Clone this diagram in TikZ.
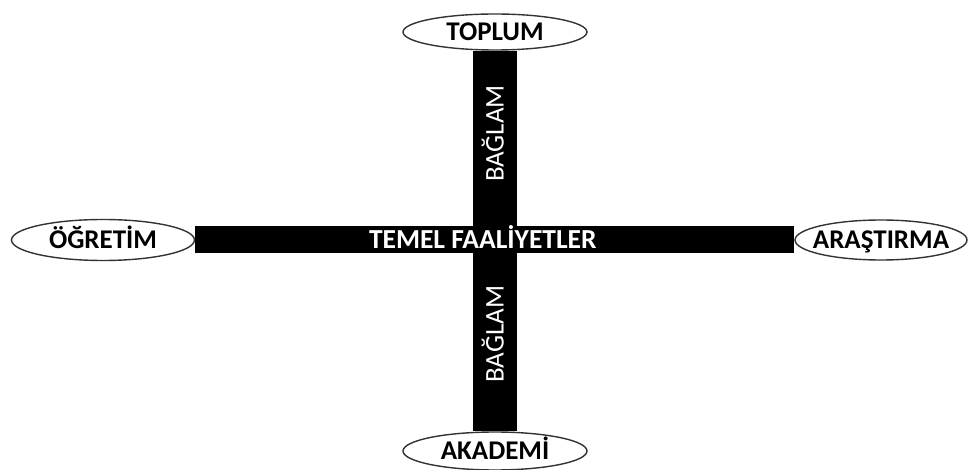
\documentclass[tikz,border=0pt]{standalone}
\usepackage{fontspec}
\setmainfont{Carlito}
\usetikzlibrary{backgrounds,shapes.geometric}
\newcommand\ortala[1]{\makebox[0pt]{#1}}
\begin{document}
\begin{tikzpicture}[x=1pt,y=-1pt,
		pole/.style={draw=black!80,line width=1.4pt,fill=white,ellipse,inner sep=0pt,text height=17pt,text depth=0pt,font=\fontsize{27}{32}\selectfont\bfseries},
		bar/.style={line width=#1,draw=black,line cap=butt},
		bartext/.style={text=white,inner sep=0pt,text height=17pt,text depth=0pt,font=\fontsize{27}{32}\selectfont}]
	\useasboundingbox (0,0) rectangle (970,470);
	\node[pole,minimum width=184pt,minimum height=36pt] (toplum) at (495,32) {\ortala{TOPLUM}};
	\node[pole,minimum width=183pt,minimum height=41pt] (ogretim) at (103,240) {\ortala{ÖĞRETİM}};
	\node[pole,minimum width=172pt,minimum height=40pt] (arastirma) at (881,240) {\ortala{ARAŞTIRMA}};
	\node[pole,minimum width=184pt,minimum height=38pt] (akademi) at (495,451) {\ortala{AKADEMİ}};
	\coordinate (merkez) at (495,241);
	\begin{scope}[on background layer]
		\draw[bar=44pt] (toplum) -- node[bartext,rotate=90,pos=0.435] (baglamust) {BAĞLAM} (merkez);
		\draw[bar=44pt] (merkez) -- node[bartext,rotate=90,pos=0.49] (baglamalt) {BAĞLAM} (akademi);
		\draw[bar=27pt] (ogretim) -- node[bartext,pos=0.48,font=\fontsize{27.5}{32}\selectfont\bfseries] (temel) {TEMEL FAALİYETLER} (arastirma);
	\end{scope}
\end{tikzpicture}
\end{document}
